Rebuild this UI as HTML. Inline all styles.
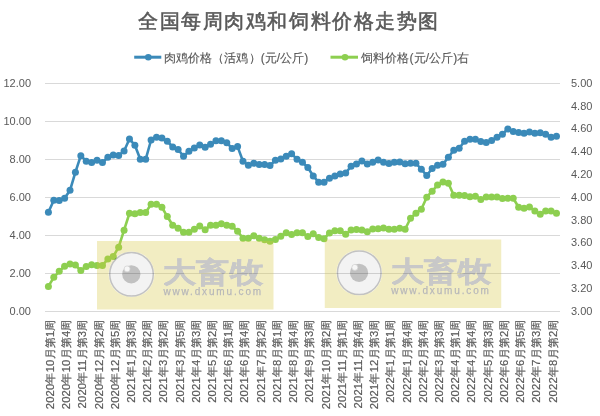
<!DOCTYPE html>
<html><head><meta charset="utf-8"><style>
html,body{margin:0;padding:0;background:#fff;width:600px;height:416px;overflow:hidden}
svg{position:absolute;left:0;top:0;display:block}
text{font-family:"Liberation Sans",sans-serif;fill:#595959}
.ax{font-size:11px}
.xl{font-size:11.25px;letter-spacing:0.18px;stroke:#595959;stroke-width:0.2px}
.lg{font-size:12px;letter-spacing:0.08px;stroke:#595959;stroke-width:0.15px}
.tt{font-size:20px;font-weight:normal;letter-spacing:1.57px;stroke:#595959;stroke-width:0.55px}
.wm{font-size:28px;font-weight:bold;fill:#c8c8c8;stroke:#c8c8c8;stroke-width:0.5px}
.wu{font-size:10px;fill:#b8b8b8;stroke:#b8b8b8;stroke-width:0.25px;letter-spacing:1.85px}
</style></head><body>
<svg width="600" height="416" viewBox="0 0 600 416">
<line x1="45" y1="83.5" x2="560" y2="83.5" stroke="#d9d9d9" stroke-width="1"/>
<line x1="45" y1="121.5" x2="560" y2="121.5" stroke="#d9d9d9" stroke-width="1"/>
<line x1="45" y1="159.5" x2="560" y2="159.5" stroke="#d9d9d9" stroke-width="1"/>
<line x1="45" y1="197.5" x2="560" y2="197.5" stroke="#d9d9d9" stroke-width="1"/>
<line x1="45" y1="235.5" x2="560" y2="235.5" stroke="#d9d9d9" stroke-width="1"/>
<line x1="45" y1="273.5" x2="560" y2="273.5" stroke="#d9d9d9" stroke-width="1"/>
<line x1="45" y1="311.5" x2="560" y2="311.5" stroke="#d9d9d9" stroke-width="1"/>
<text x="31" y="86.7" text-anchor="end" class="ax">12.00</text>
<text x="31" y="124.7" text-anchor="end" class="ax">10.00</text>
<text x="31" y="162.7" text-anchor="end" class="ax">8.00</text>
<text x="31" y="200.7" text-anchor="end" class="ax">6.00</text>
<text x="31" y="238.7" text-anchor="end" class="ax">4.00</text>
<text x="31" y="276.7" text-anchor="end" class="ax">2.00</text>
<text x="31" y="314.7" text-anchor="end" class="ax">0.00</text>
<text x="571" y="86.7" class="ax">5.00</text>
<text x="571" y="109.5" class="ax">4.80</text>
<text x="571" y="132.29999999999998" class="ax">4.60</text>
<text x="571" y="155.1" class="ax">4.40</text>
<text x="571" y="177.89999999999998" class="ax">4.20</text>
<text x="571" y="200.7" class="ax">4.00</text>
<text x="571" y="223.5" class="ax">3.80</text>
<text x="571" y="246.29999999999998" class="ax">3.60</text>
<text x="571" y="269.09999999999997" class="ax">3.40</text>
<text x="571" y="291.9" class="ax">3.20</text>
<text x="571" y="314.7" class="ax">3.00</text>
<text transform="translate(49.90,319.5) rotate(-90)" text-anchor="end" class="xl" dominant-baseline="central">2020年10月第1周</text>
<text transform="translate(66.11,319.5) rotate(-90)" text-anchor="end" class="xl" dominant-baseline="central">2020年10月第4周</text>
<text transform="translate(82.33,319.5) rotate(-90)" text-anchor="end" class="xl" dominant-baseline="central">2020年11月第3周</text>
<text transform="translate(98.55,319.5) rotate(-90)" text-anchor="end" class="xl" dominant-baseline="central">2020年12月第2周</text>
<text transform="translate(114.76,319.5) rotate(-90)" text-anchor="end" class="xl" dominant-baseline="central">2020年12月第5周</text>
<text transform="translate(130.97,319.5) rotate(-90)" text-anchor="end" class="xl" dominant-baseline="central">2021年1月第3周</text>
<text transform="translate(147.19,319.5) rotate(-90)" text-anchor="end" class="xl" dominant-baseline="central">2021年2月第2周</text>
<text transform="translate(163.41,319.5) rotate(-90)" text-anchor="end" class="xl" dominant-baseline="central">2021年3月第2周</text>
<text transform="translate(179.62,319.5) rotate(-90)" text-anchor="end" class="xl" dominant-baseline="central">2021年3月第5周</text>
<text transform="translate(195.84,319.5) rotate(-90)" text-anchor="end" class="xl" dominant-baseline="central">2021年4月第3周</text>
<text transform="translate(212.05,319.5) rotate(-90)" text-anchor="end" class="xl" dominant-baseline="central">2021年5月第2周</text>
<text transform="translate(228.27,319.5) rotate(-90)" text-anchor="end" class="xl" dominant-baseline="central">2021年6月第1周</text>
<text transform="translate(244.48,319.5) rotate(-90)" text-anchor="end" class="xl" dominant-baseline="central">2021年6月第4周</text>
<text transform="translate(260.69,319.5) rotate(-90)" text-anchor="end" class="xl" dominant-baseline="central">2021年7月第2周</text>
<text transform="translate(276.91,319.5) rotate(-90)" text-anchor="end" class="xl" dominant-baseline="central">2021年8月第1周</text>
<text transform="translate(293.12,319.5) rotate(-90)" text-anchor="end" class="xl" dominant-baseline="central">2021年8月第4周</text>
<text transform="translate(309.34,319.5) rotate(-90)" text-anchor="end" class="xl" dominant-baseline="central">2021年9月第3周</text>
<text transform="translate(325.56,319.5) rotate(-90)" text-anchor="end" class="xl" dominant-baseline="central">2021年10月第2周</text>
<text transform="translate(341.77,319.5) rotate(-90)" text-anchor="end" class="xl" dominant-baseline="central">2021年11月第1周</text>
<text transform="translate(357.99,319.5) rotate(-90)" text-anchor="end" class="xl" dominant-baseline="central">2021年11月第4周</text>
<text transform="translate(374.20,319.5) rotate(-90)" text-anchor="end" class="xl" dominant-baseline="central">2021年12月第3周</text>
<text transform="translate(390.42,319.5) rotate(-90)" text-anchor="end" class="xl" dominant-baseline="central">2022年1月第1周</text>
<text transform="translate(406.63,319.5) rotate(-90)" text-anchor="end" class="xl" dominant-baseline="central">2022年1月第4周</text>
<text transform="translate(422.84,319.5) rotate(-90)" text-anchor="end" class="xl" dominant-baseline="central">2022年2月第4周</text>
<text transform="translate(439.06,319.5) rotate(-90)" text-anchor="end" class="xl" dominant-baseline="central">2022年3月第3周</text>
<text transform="translate(455.27,319.5) rotate(-90)" text-anchor="end" class="xl" dominant-baseline="central">2022年4月第1周</text>
<text transform="translate(471.49,319.5) rotate(-90)" text-anchor="end" class="xl" dominant-baseline="central">2022年4月第4周</text>
<text transform="translate(487.70,319.5) rotate(-90)" text-anchor="end" class="xl" dominant-baseline="central">2022年5月第3周</text>
<text transform="translate(503.92,319.5) rotate(-90)" text-anchor="end" class="xl" dominant-baseline="central">2022年6月第2周</text>
<text transform="translate(520.13,319.5) rotate(-90)" text-anchor="end" class="xl" dominant-baseline="central">2022年6月第5周</text>
<text transform="translate(536.35,319.5) rotate(-90)" text-anchor="end" class="xl" dominant-baseline="central">2022年7月第3周</text>
<text transform="translate(552.57,319.5) rotate(-90)" text-anchor="end" class="xl" dominant-baseline="central">2022年8月第2周</text>
<polyline points="48.40,212.20 53.80,200.20 59.21,200.50 64.61,198.20 70.02,190.30 75.42,172.20 80.83,155.70 86.23,161.20 91.64,162.50 97.05,160.20 102.45,162.50 107.86,157.20 113.26,155.00 118.66,155.50 124.07,151.00 129.47,139.00 134.88,145.20 140.28,159.30 145.69,159.30 151.09,140.00 156.50,137.20 161.91,138.00 167.31,141.25 172.72,147.00 178.12,149.50 183.53,156.25 188.93,151.30 194.34,148.00 199.74,145.00 205.15,147.25 210.55,144.25 215.96,140.80 221.36,140.80 226.77,142.75 232.17,148.40 237.58,146.60 242.98,161.30 248.39,165.20 253.79,163.25 259.19,164.45 264.60,164.45 270.00,165.50 275.41,160.25 280.81,159.00 286.22,156.20 291.62,153.80 297.03,159.20 302.44,162.20 307.84,167.45 313.25,176.00 318.65,182.20 324.06,182.30 329.46,178.25 334.87,176.00 340.27,174.00 345.68,173.00 351.08,166.25 356.49,164.00 361.89,161.00 367.30,164.00 372.70,162.20 378.11,160.00 383.51,162.20 388.92,163.50 394.32,162.20 399.72,161.90 405.13,163.70 410.53,163.25 415.94,163.25 421.34,169.25 426.75,175.55 432.15,168.50 437.56,165.20 442.96,164.30 448.37,157.25 453.77,150.20 459.18,148.25 464.58,141.20 469.99,139.25 475.39,139.20 480.80,141.40 486.20,142.50 491.61,140.55 497.01,137.25 502.42,134.25 507.82,129.00 513.23,131.55 518.63,132.45 524.04,133.20 529.45,132.00 534.85,133.20 540.25,132.75 545.66,134.25 551.07,137.25 556.47,136.20" fill="none" stroke="#3b8ab9" stroke-width="2.6" stroke-linejoin="round"/>
<g fill="#3b8ab9"><circle cx="48.40" cy="212.20" r="3.5"/><circle cx="53.80" cy="200.20" r="3.5"/><circle cx="59.21" cy="200.50" r="3.5"/><circle cx="64.61" cy="198.20" r="3.5"/><circle cx="70.02" cy="190.30" r="3.5"/><circle cx="75.42" cy="172.20" r="3.5"/><circle cx="80.83" cy="155.70" r="3.5"/><circle cx="86.23" cy="161.20" r="3.5"/><circle cx="91.64" cy="162.50" r="3.5"/><circle cx="97.05" cy="160.20" r="3.5"/><circle cx="102.45" cy="162.50" r="3.5"/><circle cx="107.86" cy="157.20" r="3.5"/><circle cx="113.26" cy="155.00" r="3.5"/><circle cx="118.66" cy="155.50" r="3.5"/><circle cx="124.07" cy="151.00" r="3.5"/><circle cx="129.47" cy="139.00" r="3.5"/><circle cx="134.88" cy="145.20" r="3.5"/><circle cx="140.28" cy="159.30" r="3.5"/><circle cx="145.69" cy="159.30" r="3.5"/><circle cx="151.09" cy="140.00" r="3.5"/><circle cx="156.50" cy="137.20" r="3.5"/><circle cx="161.91" cy="138.00" r="3.5"/><circle cx="167.31" cy="141.25" r="3.5"/><circle cx="172.72" cy="147.00" r="3.5"/><circle cx="178.12" cy="149.50" r="3.5"/><circle cx="183.53" cy="156.25" r="3.5"/><circle cx="188.93" cy="151.30" r="3.5"/><circle cx="194.34" cy="148.00" r="3.5"/><circle cx="199.74" cy="145.00" r="3.5"/><circle cx="205.15" cy="147.25" r="3.5"/><circle cx="210.55" cy="144.25" r="3.5"/><circle cx="215.96" cy="140.80" r="3.5"/><circle cx="221.36" cy="140.80" r="3.5"/><circle cx="226.77" cy="142.75" r="3.5"/><circle cx="232.17" cy="148.40" r="3.5"/><circle cx="237.58" cy="146.60" r="3.5"/><circle cx="242.98" cy="161.30" r="3.5"/><circle cx="248.39" cy="165.20" r="3.5"/><circle cx="253.79" cy="163.25" r="3.5"/><circle cx="259.19" cy="164.45" r="3.5"/><circle cx="264.60" cy="164.45" r="3.5"/><circle cx="270.00" cy="165.50" r="3.5"/><circle cx="275.41" cy="160.25" r="3.5"/><circle cx="280.81" cy="159.00" r="3.5"/><circle cx="286.22" cy="156.20" r="3.5"/><circle cx="291.62" cy="153.80" r="3.5"/><circle cx="297.03" cy="159.20" r="3.5"/><circle cx="302.44" cy="162.20" r="3.5"/><circle cx="307.84" cy="167.45" r="3.5"/><circle cx="313.25" cy="176.00" r="3.5"/><circle cx="318.65" cy="182.20" r="3.5"/><circle cx="324.06" cy="182.30" r="3.5"/><circle cx="329.46" cy="178.25" r="3.5"/><circle cx="334.87" cy="176.00" r="3.5"/><circle cx="340.27" cy="174.00" r="3.5"/><circle cx="345.68" cy="173.00" r="3.5"/><circle cx="351.08" cy="166.25" r="3.5"/><circle cx="356.49" cy="164.00" r="3.5"/><circle cx="361.89" cy="161.00" r="3.5"/><circle cx="367.30" cy="164.00" r="3.5"/><circle cx="372.70" cy="162.20" r="3.5"/><circle cx="378.11" cy="160.00" r="3.5"/><circle cx="383.51" cy="162.20" r="3.5"/><circle cx="388.92" cy="163.50" r="3.5"/><circle cx="394.32" cy="162.20" r="3.5"/><circle cx="399.72" cy="161.90" r="3.5"/><circle cx="405.13" cy="163.70" r="3.5"/><circle cx="410.53" cy="163.25" r="3.5"/><circle cx="415.94" cy="163.25" r="3.5"/><circle cx="421.34" cy="169.25" r="3.5"/><circle cx="426.75" cy="175.55" r="3.5"/><circle cx="432.15" cy="168.50" r="3.5"/><circle cx="437.56" cy="165.20" r="3.5"/><circle cx="442.96" cy="164.30" r="3.5"/><circle cx="448.37" cy="157.25" r="3.5"/><circle cx="453.77" cy="150.20" r="3.5"/><circle cx="459.18" cy="148.25" r="3.5"/><circle cx="464.58" cy="141.20" r="3.5"/><circle cx="469.99" cy="139.25" r="3.5"/><circle cx="475.39" cy="139.20" r="3.5"/><circle cx="480.80" cy="141.40" r="3.5"/><circle cx="486.20" cy="142.50" r="3.5"/><circle cx="491.61" cy="140.55" r="3.5"/><circle cx="497.01" cy="137.25" r="3.5"/><circle cx="502.42" cy="134.25" r="3.5"/><circle cx="507.82" cy="129.00" r="3.5"/><circle cx="513.23" cy="131.55" r="3.5"/><circle cx="518.63" cy="132.45" r="3.5"/><circle cx="524.04" cy="133.20" r="3.5"/><circle cx="529.45" cy="132.00" r="3.5"/><circle cx="534.85" cy="133.20" r="3.5"/><circle cx="540.25" cy="132.75" r="3.5"/><circle cx="545.66" cy="134.25" r="3.5"/><circle cx="551.07" cy="137.25" r="3.5"/><circle cx="556.47" cy="136.20" r="3.5"/></g>
<polyline points="48.40,286.45 53.80,277.30 59.21,271.30 64.61,266.20 70.02,263.95 75.42,265.00 80.83,270.55 86.23,266.50 91.64,264.70 97.05,265.45 102.45,265.45 107.86,259.00 113.26,256.45 118.66,247.20 124.07,230.20 129.47,213.25 134.88,213.70 140.28,212.50 145.69,212.50 151.09,204.25 156.50,204.25 161.91,207.25 167.31,216.55 172.72,225.25 178.12,228.25 183.53,232.30 188.93,232.30 194.34,229.30 199.74,226.00 205.15,229.70 210.55,225.20 215.96,225.20 221.36,223.70 226.77,225.20 232.17,226.25 237.58,231.20 242.98,238.25 248.39,238.25 253.79,235.70 259.19,238.25 264.60,239.75 270.00,241.25 275.41,239.50 280.81,236.20 286.22,232.70 291.62,234.50 297.03,232.70 302.44,232.70 307.84,236.45 313.25,233.75 318.65,237.50 324.06,238.70 329.46,233.00 334.87,230.75 340.27,230.75 345.68,234.20 351.08,230.00 356.49,229.50 361.89,230.00 367.30,231.70 372.70,229.00 378.11,228.70 383.51,227.95 388.92,229.30 394.32,229.30 399.72,228.25 405.13,229.30 410.53,218.20 415.94,213.25 421.34,209.20 426.75,197.20 432.15,191.20 437.56,185.10 442.96,181.90 448.37,183.20 453.77,195.20 459.18,195.20 464.58,195.50 469.99,196.70 475.39,196.25 480.80,199.40 486.20,197.10 491.61,197.10 497.01,197.10 502.42,198.40 507.82,198.25 513.23,198.25 518.63,207.25 524.04,208.20 529.45,207.00 534.85,211.05 540.25,214.20 545.66,211.05 551.07,211.05 556.47,213.30" fill="none" stroke="#8dcf50" stroke-width="2.6" stroke-linejoin="round"/>
<g fill="#8dcf50"><circle cx="48.40" cy="286.45" r="3.5"/><circle cx="53.80" cy="277.30" r="3.5"/><circle cx="59.21" cy="271.30" r="3.5"/><circle cx="64.61" cy="266.20" r="3.5"/><circle cx="70.02" cy="263.95" r="3.5"/><circle cx="75.42" cy="265.00" r="3.5"/><circle cx="80.83" cy="270.55" r="3.5"/><circle cx="86.23" cy="266.50" r="3.5"/><circle cx="91.64" cy="264.70" r="3.5"/><circle cx="97.05" cy="265.45" r="3.5"/><circle cx="102.45" cy="265.45" r="3.5"/><circle cx="107.86" cy="259.00" r="3.5"/><circle cx="113.26" cy="256.45" r="3.5"/><circle cx="118.66" cy="247.20" r="3.5"/><circle cx="124.07" cy="230.20" r="3.5"/><circle cx="129.47" cy="213.25" r="3.5"/><circle cx="134.88" cy="213.70" r="3.5"/><circle cx="140.28" cy="212.50" r="3.5"/><circle cx="145.69" cy="212.50" r="3.5"/><circle cx="151.09" cy="204.25" r="3.5"/><circle cx="156.50" cy="204.25" r="3.5"/><circle cx="161.91" cy="207.25" r="3.5"/><circle cx="167.31" cy="216.55" r="3.5"/><circle cx="172.72" cy="225.25" r="3.5"/><circle cx="178.12" cy="228.25" r="3.5"/><circle cx="183.53" cy="232.30" r="3.5"/><circle cx="188.93" cy="232.30" r="3.5"/><circle cx="194.34" cy="229.30" r="3.5"/><circle cx="199.74" cy="226.00" r="3.5"/><circle cx="205.15" cy="229.70" r="3.5"/><circle cx="210.55" cy="225.20" r="3.5"/><circle cx="215.96" cy="225.20" r="3.5"/><circle cx="221.36" cy="223.70" r="3.5"/><circle cx="226.77" cy="225.20" r="3.5"/><circle cx="232.17" cy="226.25" r="3.5"/><circle cx="237.58" cy="231.20" r="3.5"/><circle cx="242.98" cy="238.25" r="3.5"/><circle cx="248.39" cy="238.25" r="3.5"/><circle cx="253.79" cy="235.70" r="3.5"/><circle cx="259.19" cy="238.25" r="3.5"/><circle cx="264.60" cy="239.75" r="3.5"/><circle cx="270.00" cy="241.25" r="3.5"/><circle cx="275.41" cy="239.50" r="3.5"/><circle cx="280.81" cy="236.20" r="3.5"/><circle cx="286.22" cy="232.70" r="3.5"/><circle cx="291.62" cy="234.50" r="3.5"/><circle cx="297.03" cy="232.70" r="3.5"/><circle cx="302.44" cy="232.70" r="3.5"/><circle cx="307.84" cy="236.45" r="3.5"/><circle cx="313.25" cy="233.75" r="3.5"/><circle cx="318.65" cy="237.50" r="3.5"/><circle cx="324.06" cy="238.70" r="3.5"/><circle cx="329.46" cy="233.00" r="3.5"/><circle cx="334.87" cy="230.75" r="3.5"/><circle cx="340.27" cy="230.75" r="3.5"/><circle cx="345.68" cy="234.20" r="3.5"/><circle cx="351.08" cy="230.00" r="3.5"/><circle cx="356.49" cy="229.50" r="3.5"/><circle cx="361.89" cy="230.00" r="3.5"/><circle cx="367.30" cy="231.70" r="3.5"/><circle cx="372.70" cy="229.00" r="3.5"/><circle cx="378.11" cy="228.70" r="3.5"/><circle cx="383.51" cy="227.95" r="3.5"/><circle cx="388.92" cy="229.30" r="3.5"/><circle cx="394.32" cy="229.30" r="3.5"/><circle cx="399.72" cy="228.25" r="3.5"/><circle cx="405.13" cy="229.30" r="3.5"/><circle cx="410.53" cy="218.20" r="3.5"/><circle cx="415.94" cy="213.25" r="3.5"/><circle cx="421.34" cy="209.20" r="3.5"/><circle cx="426.75" cy="197.20" r="3.5"/><circle cx="432.15" cy="191.20" r="3.5"/><circle cx="437.56" cy="185.10" r="3.5"/><circle cx="442.96" cy="181.90" r="3.5"/><circle cx="448.37" cy="183.20" r="3.5"/><circle cx="453.77" cy="195.20" r="3.5"/><circle cx="459.18" cy="195.20" r="3.5"/><circle cx="464.58" cy="195.50" r="3.5"/><circle cx="469.99" cy="196.70" r="3.5"/><circle cx="475.39" cy="196.25" r="3.5"/><circle cx="480.80" cy="199.40" r="3.5"/><circle cx="486.20" cy="197.10" r="3.5"/><circle cx="491.61" cy="197.10" r="3.5"/><circle cx="497.01" cy="197.10" r="3.5"/><circle cx="502.42" cy="198.40" r="3.5"/><circle cx="507.82" cy="198.25" r="3.5"/><circle cx="513.23" cy="198.25" r="3.5"/><circle cx="518.63" cy="207.25" r="3.5"/><circle cx="524.04" cy="208.20" r="3.5"/><circle cx="529.45" cy="207.00" r="3.5"/><circle cx="534.85" cy="211.05" r="3.5"/><circle cx="540.25" cy="214.20" r="3.5"/><circle cx="545.66" cy="211.05" r="3.5"/><circle cx="551.07" cy="211.05" r="3.5"/><circle cx="556.47" cy="213.30" r="3.5"/></g>
<mask id="m1" maskUnits="userSpaceOnUse" x="-10" y="-10" width="200" height="90"><rect x="-10" y="-10" width="200" height="90" fill="#fff"/><circle cx="34.5" cy="33.3" r="22.8" fill="#000"/>
<circle cx="34.3" cy="33.3" r="9.1" fill="#000"/>
<circle cx="30.1" cy="27.9" r="3" fill="#000"/>
<text x="0" y="0" class="wm" transform="translate(66,41) scale(1.18,1)" style="fill:#000;stroke:#000">大畜牧</text>
<text x="66.4" y="54" class="wu" style="fill:#000;stroke:#000">www.dxumu.com</text></mask>
<g transform="translate(97,241)">
<rect x="0" y="0" width="176.5" height="68.5" fill="#d7c63a" opacity="0.3" mask="url(#m1)"/>
<g style="mix-blend-mode:multiply"><circle cx="34.5" cy="33.3" r="21.8" fill="#f3f3f3" stroke="#c2c2c2" stroke-width="1.5"/>
<circle cx="34.3" cy="33.3" r="9.1" fill="#c1c1c1"/>
<circle cx="30.1" cy="27.9" r="3" fill="#f6f6f6" stroke="#cfcfcf" stroke-width="0.7"/>
<text x="0" y="0" class="wm" transform="translate(66,41) scale(1.18,1)" >大畜牧</text>
<text x="66.4" y="54" class="wu" >www.dxumu.com</text></g>
</g>
<mask id="m2" maskUnits="userSpaceOnUse" x="-10" y="-10" width="200" height="90"><rect x="-10" y="-10" width="200" height="90" fill="#fff"/><circle cx="34.5" cy="33.3" r="22.8" fill="#000"/>
<circle cx="34.3" cy="33.3" r="9.1" fill="#000"/>
<circle cx="30.1" cy="27.9" r="3" fill="#000"/>
<text x="0" y="0" class="wm" transform="translate(66,41) scale(1.18,1)" style="fill:#000;stroke:#000">大畜牧</text>
<text x="66.4" y="54" class="wu" style="fill:#000;stroke:#000">www.dxumu.com</text></mask>
<g transform="translate(324.75,239.5)">
<rect x="0" y="0" width="176.5" height="68.5" fill="#d7c63a" opacity="0.3" mask="url(#m2)"/>
<g style="mix-blend-mode:multiply"><circle cx="34.5" cy="33.3" r="21.8" fill="#f3f3f3" stroke="#c2c2c2" stroke-width="1.5"/>
<circle cx="34.3" cy="33.3" r="9.1" fill="#c1c1c1"/>
<circle cx="30.1" cy="27.9" r="3" fill="#f6f6f6" stroke="#cfcfcf" stroke-width="0.7"/>
<text x="0" y="0" class="wm" transform="translate(66,41) scale(1.18,1)" >大畜牧</text>
<text x="66.4" y="54" class="wu" >www.dxumu.com</text></g>
</g>
<line x1="134.2" y1="57.2" x2="161.3" y2="57.2" stroke="#3b8ab9" stroke-width="3"/><circle cx="148.3" cy="57.2" r="3.3" fill="#3b8ab9"/>
<text x="164" y="61.5" class="lg">肉鸡价格（活鸡）(元/公斤)</text>
<line x1="330.5" y1="57.2" x2="358" y2="57.2" stroke="#8dcf50" stroke-width="3"/><circle cx="345" cy="57.2" r="3.3" fill="#8dcf50"/>
<text x="361.25" y="61.5" class="lg">饲料价格(元/公斤)右</text>
<text x="289" y="28" text-anchor="middle" class="tt">全国每周肉鸡和饲料价格走势图</text>
</svg>
</body></html>
